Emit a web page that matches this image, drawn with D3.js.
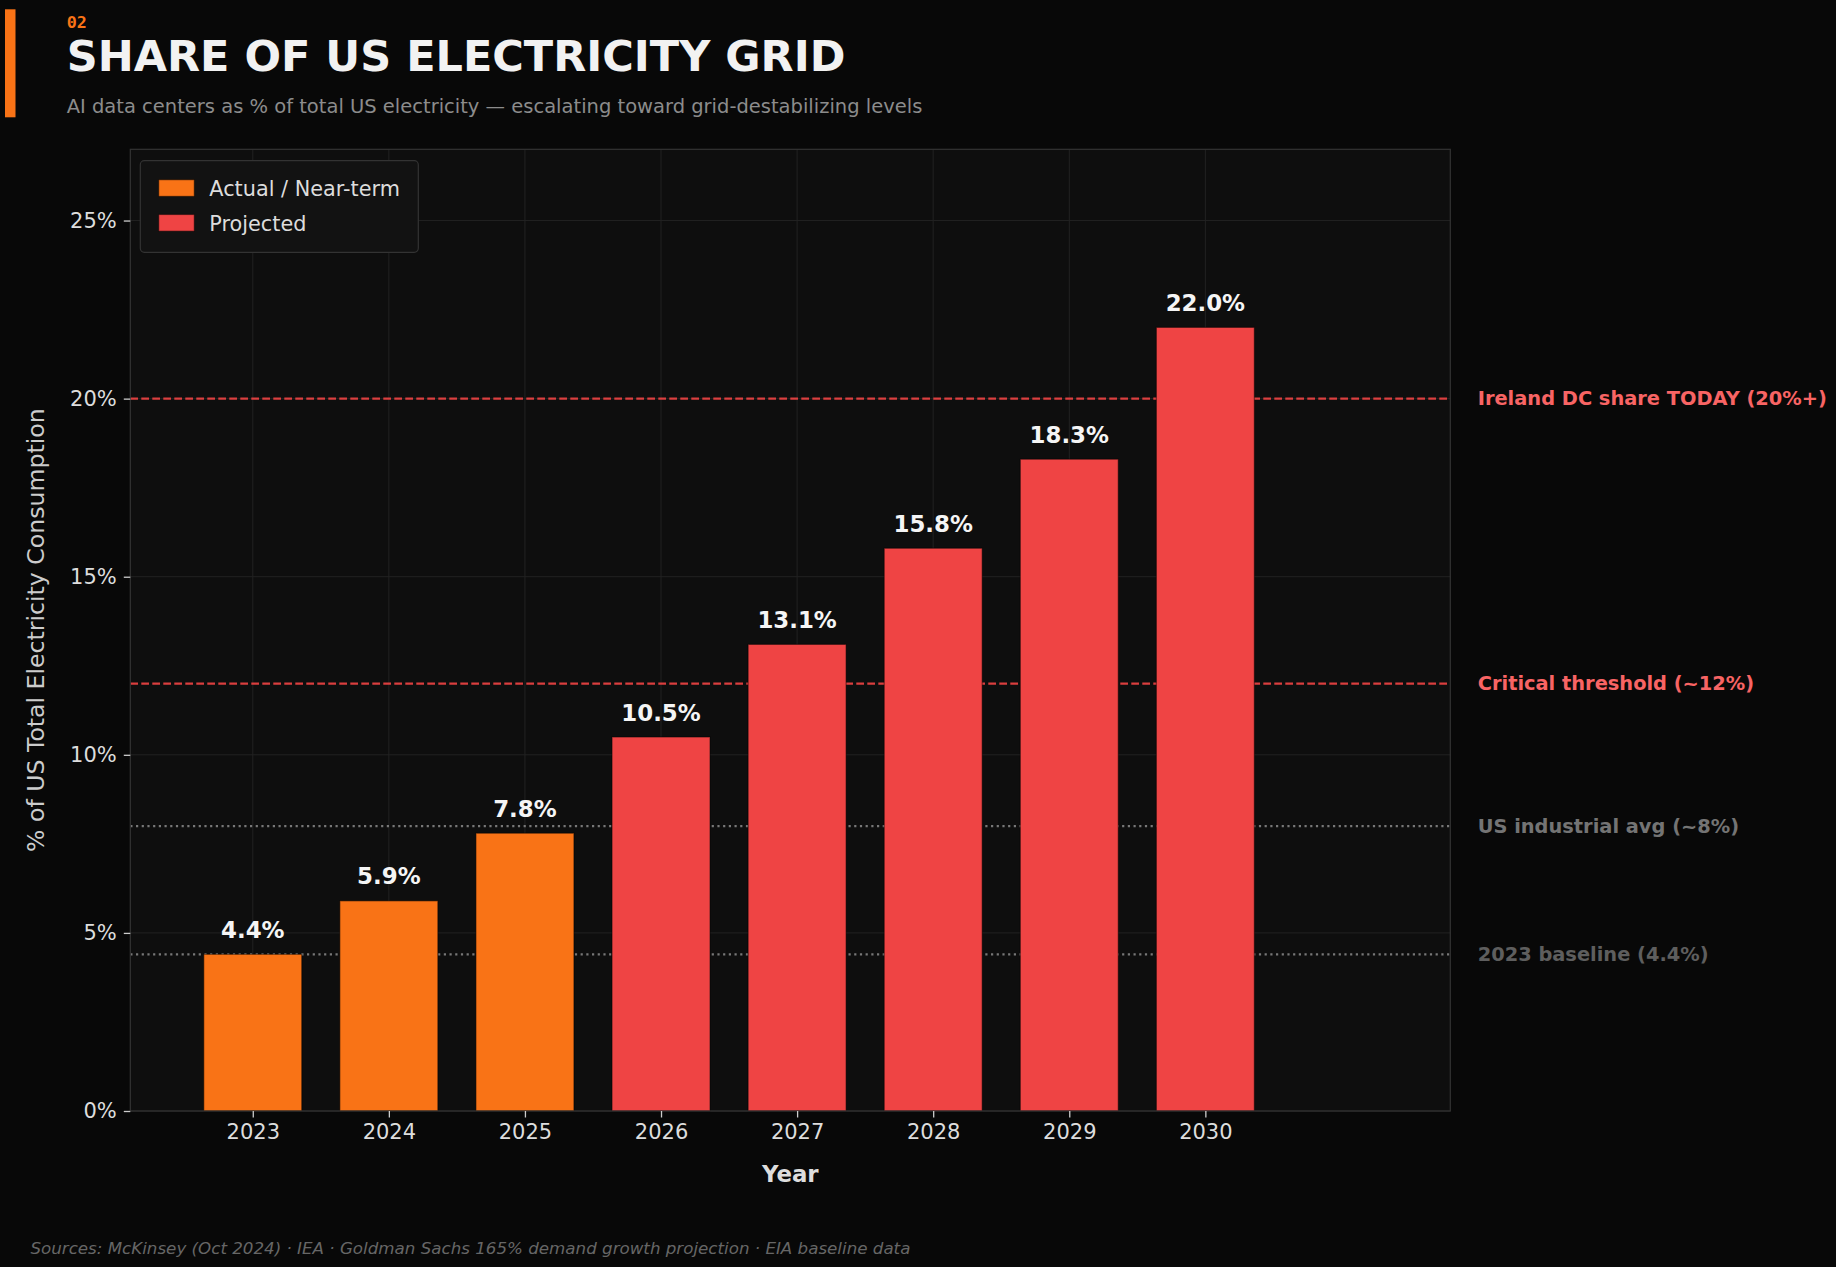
<!DOCTYPE html>
<html lang="en">
<head>
  <meta charset="UTF-8">
  <title>Share of US Electricity Grid</title>
  <script src="https://d3js.org/d3.v7.min.js"></script>
  <style>
    body { margin: 0; background: #080808; }
    text { font-family: "DejaVu Sans", sans-serif; }
  </style>
</head>
<body>
<div id="chart"></div>

<script>
// data
var years = ["2023", "2024", "2025", "2026", "2027", "2028", "2029", "2030"];
var shares = [4.4, 5.9, 7.8, 10.5, 13.1, 15.8, 18.3, 22.0];
var phases = ["actual", "actual", "actual", "projected", "projected", "projected", "projected", "projected"];

var refValues = [20, 12, 8, 4.4];
var refLabels = ["Ireland DC share TODAY (20%+)", "Critical threshold (~12%)", "US industrial avg (~8%)", "2023 baseline (4.4%)"];
var refKinds = ["danger", "danger", "context", "baseline"];

var yTicks = [0, 5, 10, 15, 20, 25];
var legendLabels = ["Actual / Near-term", "Projected"];
var legendKeys = ["actual", "projected"];

var W = 1836, H = 1267;
var plot = {left: 130.3, right: 1450.3, top: 149.3, bottom: 1111};

var color = {actual: "#f97316", projected: "#ef4444"};

var svg = d3.select("#chart").append("svg")
  .attr("width", W)
  .attr("height", H);

svg.append("rect").attr("width", W).attr("height", H).attr("fill", "#080808");

// header
svg.append("rect")
  .attr("x", 5).attr("y", 9.3)
  .attr("width", 10.5).attr("height", 108)
  .attr("fill", "#f97316");

svg.append("text")
  .attr("x", 66.7).attr("y", 27.7)
  .style("font-family", "'DejaVu Sans Mono', monospace")
  .attr("font-weight", "bold")
  .attr("font-size", 16.7)
  .attr("fill", "#f97316")
  .text("02");

svg.append("text")
  .attr("x", 66.7).attr("y", 71)
  .attr("font-weight", "bold")
  .attr("font-size", 43)
  .attr("fill", "#f2f2f2")
  .text("SHARE OF US ELECTRICITY GRID");

svg.append("text")
  .attr("x", 66.7).attr("y", 112.7)
  .attr("font-size", 19.5)
  .attr("fill", "#8c8c8c")
  .text("AI data centers as % of total US electricity \u2014 escalating toward grid-destabilizing levels");

// scales
var x = d3.scaleLinear().domain([-0.9, 8.8]).range([plot.left, plot.right]);
var y = d3.scaleLinear().domain([0, 27]).range([plot.bottom, plot.top]);
var barW = 0.72;

var g = svg.append("g");

g.append("rect")
  .attr("x", plot.left).attr("y", plot.top)
  .attr("width", plot.right - plot.left)
  .attr("height", plot.bottom - plot.top)
  .attr("fill", "#0e0e0e");

// grid
g.selectAll(".hgrid")
  .data(yTicks)
  .enter().append("line")
  .attr("x1", plot.left).attr("x2", plot.right)
  .attr("y1", function(d) { return y(d); })
  .attr("y2", function(d) { return y(d); })
  .attr("stroke", "#222222")
  .attr("stroke-width", 1);

g.selectAll(".vgrid")
  .data(years)
  .enter().append("line")
  .attr("x1", function(d, i) { return x(i); })
  .attr("x2", function(d, i) { return x(i); })
  .attr("y1", plot.top).attr("y2", plot.bottom)
  .attr("stroke", "#222222")
  .attr("stroke-width", 1);

// reference lines
var refStyle = {
  danger:   {stroke: "#ef4444", opacity: 0.9, dash: "7.7,3.3", text: "#f86464"},
  context:  {stroke: "#777777", opacity: 1, dash: "2.2,3.5", text: "#747474"},
  baseline: {stroke: "#777777", opacity: 1, dash: "2.2,3.5", text: "#5e5e5e"}
};

g.selectAll(".ref")
  .data(refValues)
  .enter().append("line")
  .attr("x1", plot.left).attr("x2", plot.right)
  .attr("y1", function(d) { return y(d); })
  .attr("y2", function(d) { return y(d); })
  .attr("stroke", function(d, i) { return refStyle[refKinds[i]].stroke; })
  .attr("stroke-opacity", function(d, i) { return refStyle[refKinds[i]].opacity; })
  .attr("stroke-dasharray", function(d, i) { return refStyle[refKinds[i]].dash; })
  .attr("stroke-width", 2.2);

svg.selectAll(".ref-label")
  .data(refValues)
  .enter().append("text")
  .attr("x", 1477.7)
  .attr("y", function(d) { return y(d); })
  .attr("dy", "0.35em")
  .attr("font-weight", "bold")
  .attr("font-size", 19.4)
  .attr("fill", function(d, i) { return refStyle[refKinds[i]].text; })
  .text(function(d, i) { return refLabels[i]; });

// bars
g.selectAll(".bar")
  .data(shares)
  .enter().append("rect")
  .attr("x", function(d, i) { return x(i - barW / 2); })
  .attr("y", function(d) { return y(d); })
  .attr("width", x(barW) - x(0))
  .attr("height", function(d) { return y(0) - y(d); })
  .attr("fill", function(d, i) { return color[phases[i]]; })
  .attr("stroke", "rgba(0,0,0,0.45)")
  .attr("stroke-width", 1.2);

g.selectAll(".bar-label")
  .data(shares)
  .enter().append("text")
  .attr("x", function(d, i) { return x(i); })
  .attr("y", function(d) { return y(d) - 16.5; })
  .attr("text-anchor", "middle")
  .attr("font-weight", "bold")
  .attr("font-size", 22.9)
  .attr("fill", "#f5f5f5")
  .text(function(d) { return d.toFixed(1) + "%"; });

// frame
g.append("rect")
  .attr("x", plot.left).attr("y", plot.top)
  .attr("width", plot.right - plot.left)
  .attr("height", plot.bottom - plot.top)
  .attr("fill", "none")
  .attr("stroke", "#333333")
  .attr("stroke-width", 1.2);

// axes
var yAxis = svg.append("g")
  .attr("transform", "translate(" + plot.left + ",0)")
  .call(d3.axisLeft(y).tickValues(yTicks).tickFormat(function(d) { return d + "%"; }).tickSize(6.5).tickPadding(7));

var xAxis = svg.append("g")
  .attr("transform", "translate(0," + plot.bottom + ")")
  .call(d3.axisBottom(x).tickValues(d3.range(years.length)).tickFormat(function(d) { return years[d]; }).tickSize(6.5).tickPadding(7));

[yAxis, xAxis].forEach(function(ax) {
  ax.select(".domain").remove();
  ax.selectAll(".tick line").attr("stroke", "#cccccc").attr("stroke-width", 1.3);
  ax.selectAll(".tick text")
    .attr("fill", "#dddddd")
    .attr("font-size", 21)
    .style("font-family", "'DejaVu Sans', sans-serif");
});

// axis titles
svg.append("text")
  .attr("x", (plot.left + plot.right) / 2)
  .attr("y", 1181.7)
  .attr("text-anchor", "middle")
  .attr("font-weight", "bold")
  .attr("font-size", 22.9)
  .attr("fill", "#dddddd")
  .text("Year");

svg.append("text")
  .attr("transform", "translate(36," + (plot.top + plot.bottom) / 2 + ") rotate(-90)")
  .attr("text-anchor", "middle")
  .attr("dy", "0.35em")
  .attr("font-size", 23.6)
  .attr("fill", "#cccccc")
  .text("% of US Total Electricity Consumption");

// legend
var legend = svg.append("g");
legend.append("rect")
  .attr("x", 140.3).attr("y", 160.7)
  .attr("width", 278).attr("height", 91.6)
  .attr("rx", 4)
  .attr("fill", "#121212")
  .attr("stroke", "#333333")
  .attr("stroke-width", 1.2);

legend.selectAll(".swatch")
  .data(legendKeys)
  .enter().append("rect")
  .attr("x", 158.7)
  .attr("y", function(d, i) { return 179.7 + i * 34.8; })
  .attr("width", 35.6).attr("height", 16.7)
  .attr("fill", function(d) { return color[d]; })
  .attr("stroke", "rgba(0,0,0,0.45)")
  .attr("stroke-width", 1.2);

legend.selectAll(".legend-label")
  .data(legendLabels)
  .enter().append("text")
  .attr("x", 209.3)
  .attr("y", function(d, i) { return 196 + i * 34.8; })
  .attr("font-size", 20.8)
  .attr("fill", "#dddddd")
  .text(function(d) { return d; });

// footer
svg.append("text")
  .attr("x", 30.4).attr("y", 1254.3)
  .attr("font-style", "italic")
  .attr("font-size", 16.7)
  .attr("fill", "#666666")
  .text("Sources: McKinsey (Oct 2024) \u00b7 IEA \u00b7 Goldman Sachs 165% demand growth projection \u00b7 EIA baseline data");
</script>
</body>
</html>
